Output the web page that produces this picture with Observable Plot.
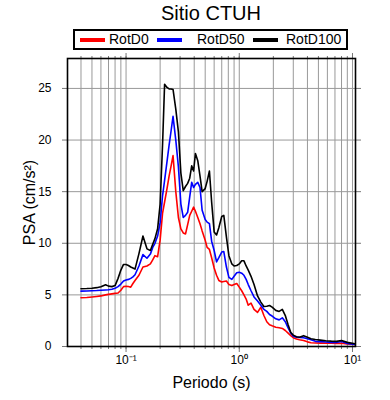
<!DOCTYPE html>
<html>
<head>
<meta charset="utf-8">
<script src="https://cdn.jsdelivr.net/npm/d3@7"></script>
<script src="https://cdn.jsdelivr.net/npm/@observablehq/plot@0.6"></script>
<style>
  html, body { margin: 0; padding: 0; background: #fff; }
  body { font-family: "Liberation Sans", Arial, sans-serif; color: #000; }
  #wrap { position: relative; width: 390px; }
  #head { position: relative; width: 390px; height: 52px; }
  #title { position: absolute; left: 0; width: 422px; top: 1px; text-align: center; font-size: 20px; line-height: 24px; }
  #legend { position: absolute; left: 73px; top: 29px; width: 271px; height: 17px; border: 2px solid #000; }
  .sw { position: absolute; top: 7px; width: 25px; height: 4px; }
  .lb { position: absolute; top: 0px; font-size: 14px; line-height: 17px; }
</style>
</head>
<body>
<div id="wrap">
  <div id="head">
    <div id="title"></div>
    <div id="legend"></div>
  </div>
  <div id="chart"></div>
</div>
<script>
// Periods (s)
const periods = [
  0.04, 0.045, 0.05, 0.055, 0.06, 0.066, 0.07, 0.075, 0.08, 0.085,
  0.09, 0.095, 0.1, 0.105, 0.11, 0.115, 0.12, 0.13, 0.141, 0.153,
  0.164, 0.172, 0.18, 0.19, 0.2, 0.21, 0.219, 0.23, 0.24, 0.25,
  0.26, 0.275, 0.29, 0.305, 0.32, 0.335, 0.35, 0.365, 0.38, 0.395,
  0.41, 0.43, 0.45, 0.47, 0.5, 0.52, 0.545, 0.57, 0.6, 0.63,
  0.66, 0.7, 0.73, 0.77, 0.81, 0.86, 0.9, 0.95, 1.0, 1.05,
  1.1, 1.15, 1.2, 1.27, 1.35, 1.45, 1.55, 1.65, 1.75, 1.85,
  1.95, 2.1, 2.25, 2.4, 2.55, 2.7, 2.85, 3.0, 3.2, 3.4,
  3.7, 4.0, 4.3, 4.7, 5.2, 5.8, 6.5, 7.2, 8.0, 9.0, 10.5
];
// PSA (cm/s^2)
const rotD0 = [
  4.72, 4.75, 4.8, 4.85, 4.9, 5.0, 5.05, 5.1, 5.15, 5.18,
  5.45, 5.8, 5.84, 5.82, 5.75, 6.1, 6.4, 6.9, 7.7, 7.8,
  8.0, 8.4, 8.8, 8.7, 10.3, 12.9, 14.0, 15.3, 16.5, 17.5,
  18.5, 15.0, 12.5, 11.4, 11.0, 10.9, 11.8, 12.7, 13.1, 13.5,
  13.1, 12.5, 11.9, 11.2, 10.3, 9.6, 9.4, 8.6, 7.6, 6.9,
  6.4, 6.25, 6.3, 6.35, 6.0, 5.9, 6.0, 6.1, 5.75, 5.4,
  5.0, 4.6, 4.0, 4.2, 3.6, 3.3, 3.8, 3.0, 2.4, 2.1,
  2.0, 1.87, 1.82, 1.75, 1.55, 1.3, 1.05, 0.85, 0.72, 0.65,
  0.58, 0.45, 0.36, 0.34, 0.33, 0.32, 0.31, 0.3, 0.32, 0.25, 0.19
];
const rotD50 = [
  5.36, 5.38, 5.4, 5.42, 5.45, 5.48, 5.5, 5.55, 5.65, 5.8,
  6.05, 6.35, 6.45, 6.5, 6.6, 6.75, 6.95, 7.8, 8.9, 8.55,
  8.95, 9.6, 10.0, 10.7, 12.0, 14.6, 16.1, 17.9, 19.5, 20.9,
  22.3, 20.0, 17.4, 13.8, 12.5, 12.7, 13.0, 14.5, 15.9, 15.4,
  15.7, 15.9, 15.4, 13.2, 12.3, 12.05, 11.9, 10.2, 9.3, 8.2,
  8.6, 9.15, 9.2, 7.7, 6.7, 6.5, 6.8, 7.15, 7.2, 7.1,
  6.9, 6.5, 6.0, 5.4, 4.8, 4.4, 4.0, 3.6, 3.4, 3.1,
  2.95, 2.68, 2.58, 2.78, 2.4, 1.8, 1.3, 1.0, 0.9, 0.88,
  0.85, 0.75, 0.65, 0.5, 0.47, 0.44, 0.4, 0.39, 0.48, 0.3, 0.2
];
const rotD100 = [
  5.6, 5.62, 5.65, 5.7, 5.78, 5.98, 5.85, 5.8, 5.9, 6.6,
  7.4, 7.95, 7.95, 7.85, 7.7, 7.6, 7.5, 9.0, 10.7, 9.46,
  9.3, 9.9, 10.45, 11.4, 13.8, 19.5, 25.4, 25.1, 24.95, 24.95,
  24.9, 23.0, 20.8, 16.8, 15.1, 15.5, 15.8, 16.3, 17.5, 17.0,
  18.7, 18.0, 16.5, 15.0, 15.3, 16.0, 17.0, 14.0, 11.1, 10.8,
  11.5, 12.6, 12.7, 10.6, 8.8, 8.0, 7.8, 7.85, 8.0, 8.3,
  8.3, 7.8, 7.4, 6.8, 6.0, 4.9, 4.3, 3.88, 3.9, 3.97,
  3.81, 3.5, 3.4, 3.6, 3.0, 2.1, 1.35, 1.1, 0.95, 0.9,
  1.05, 0.9, 0.75, 0.68, 0.62, 0.56, 0.52, 0.5, 0.58, 0.4, 0.27
];
const seriesNames = ["RotD0", "RotD50", "RotD100"];
const seriesColors = ["#ff0000", "#0000ff", "#000000"];
const seriesValues = [rotD0, rotD50, rotD100];

const xMinorTicks = [0.04,0.05,0.06,0.07,0.08,0.09,0.1,0.2,0.3,0.4,0.5,0.6,0.7,0.8,0.9,1,2,3,4,5,6,7,8,9,10];
const xMajorTicks = [0.1, 1, 10];
const xMajorLabels = ["10⁻¹", "10⁰", "10¹"];
const yTicks = [0, 5, 10, 15, 20, 25];
const yGrid = [5, 10, 15, 20, 25];

const title = "Sitio CTUH";
const xLabel = "Periodo (s)";
const yLabel = "PSA (cm/s²)";

// Build rows
const rows = [];
seriesNames.forEach((name, k) => {
  periods.forEach((p, i) => {
    const v = seriesValues[k][i];
    if (v != null) rows.push({ period: p, psa: v, serie: name });
  });
});

// Title and legend (HTML)
document.getElementById("title").textContent = title;
const legend = document.getElementById("legend");
const swLeft = [5, 82, 178];
const lbLeft = [34, 122, 211];
seriesNames.forEach((name, k) => {
  const sw = document.createElement("div");
  sw.className = "sw";
  sw.style.left = swLeft[k] + "px";
  sw.style.background = seriesColors[k];
  legend.appendChild(sw);
  const lb = document.createElement("div");
  lb.className = "lb";
  lb.style.left = lbLeft[k] + "px";
  lb.textContent = name;
  legend.appendChild(lb);
});

const fmtMajor = d => xMajorLabels[xMajorTicks.indexOf(d)];
const blank = () => "";

const chart = Plot.plot({
  width: 390,
  height: 348,
  marginTop: 6,
  marginBottom: 54,
  marginLeft: 67,
  marginRight: 35,
  style: { fontFamily: "'Liberation Sans', Arial, sans-serif", fontSize: "12px", background: "#fff", color: "#000" },
  x: { type: "log", domain: [0.0304, 10.63] },
  y: { domain: [0, 27.9] },
  color: { domain: seriesNames, range: seriesColors },
  marks: [
    Plot.gridX(xMinorTicks, { stroke: "#999", strokeOpacity: 1, strokeWidth: 1 }),
    Plot.gridY(yGrid, { stroke: "#999", strokeOpacity: 1, strokeWidth: 1 }),
    Plot.axisX(xMinorTicks, { anchor: "bottom", tickSize: 3, tickFormat: blank, label: null, stroke: "#777" }),
    Plot.axisX(xMajorTicks, { anchor: "bottom", tickSize: 6, tickPadding: 3, tickFormat: fmtMajor, label: null, stroke: "#777", fontSize: 12 }),
    Plot.axisX(xMinorTicks, { anchor: "top", tickSize: 3, tickFormat: blank, label: null, stroke: "#777" }),
    Plot.axisX(xMajorTicks, { anchor: "top", tickSize: 6, tickFormat: blank, label: null, stroke: "#777" }),
    Plot.axisY(yTicks, { anchor: "left", tickSize: 5, tickPadding: 11, label: null, stroke: "#777", fontSize: 12 }),
    Plot.axisY(yTicks, { anchor: "right", tickSize: 5, tickFormat: blank, label: null, stroke: "#777" }),
    Plot.line(rows, { x: "period", y: "psa", z: "serie", stroke: "serie", strokeWidth: 1.6 }),
    Plot.frame({ stroke: "#000", strokeWidth: 1.6 }),
    Plot.text([xLabel], { frameAnchor: "bottom", dy: 36, fontSize: 16, lineAnchor: "middle", textAnchor: "middle", fill: "#000" }),
    Plot.text([yLabel], { frameAnchor: "left", dx: -38, rotate: -90, fontSize: 16, lineAnchor: "middle", textAnchor: "middle", fill: "#000" })
  ]
});
document.getElementById("chart").appendChild(chart);
</script>
</body>
</html>
